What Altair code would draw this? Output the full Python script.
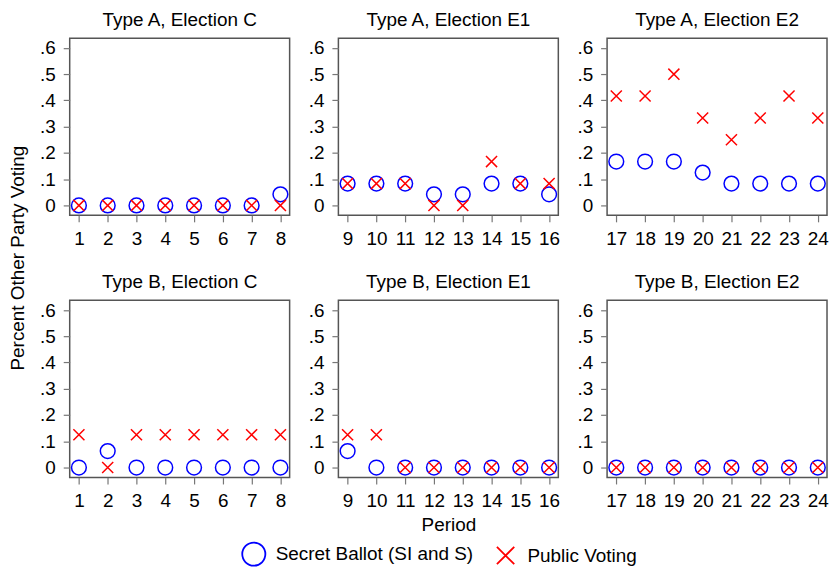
import altair as alt
import pandas as pd

# ---- data ----
series_names = ["Secret Ballot (SI and S)", "Public Voting"]

periods_c = [1, 2, 3, 4, 5, 6, 7, 8]
periods_e1 = [9, 10, 11, 12, 13, 14, 15, 16]
periods_e2 = [17, 18, 19, 20, 21, 22, 23, 24]

a_c_secret = [0, 0, 0, 0, 0, 0, 0, 0.042]
a_c_public = [0, 0, 0, 0, 0, 0, 0, 0]
a_e1_secret = [0.083, 0.083, 0.083, 0.042, 0.042, 0.083, 0.083, 0.042]
a_e1_public = [0.083, 0.083, 0.083, 0, 0, 0.167, 0.083, 0.083]
a_e2_secret = [0.167, 0.167, 0.167, 0.125, 0.083, 0.083, 0.083, 0.083]
a_e2_public = [0.417, 0.417, 0.5, 0.333, 0.25, 0.333, 0.417, 0.333]

b_c_secret = [0, 0.0625, 0, 0, 0, 0, 0, 0]
b_c_public = [0.125, 0, 0.125, 0.125, 0.125, 0.125, 0.125, 0.125]
b_e1_secret = [0.0625, 0, 0, 0, 0, 0, 0, 0]
b_e1_public = [0.125, 0.125, 0, 0, 0, 0, 0, 0]
b_e2_secret = [0, 0, 0, 0, 0, 0, 0, 0]
b_e2_public = [0, 0, 0, 0, 0, 0, 0, 0]

panel_titles = [
    "Type A, Election C", "Type A, Election E1", "Type A, Election E2",
    "Type B, Election C", "Type B, Election E1", "Type B, Election E2",
]
panel_periods = [periods_c, periods_e1, periods_e2, periods_c, periods_e1, periods_e2]
panel_secret = [a_c_secret, a_e1_secret, a_e2_secret, b_c_secret, b_e1_secret, b_e2_secret]
panel_public = [a_c_public, a_e1_public, a_e2_public, b_c_public, b_e1_public, b_e2_public]

y_ticks = [0, 0.1, 0.2, 0.3, 0.4, 0.5, 0.6]

X_PATH = "M-0.75,-0.75L0.75,0.75M-0.75,0.75L0.75,-0.75"
FS = 19

legend = alt.Legend(
    orient="none", legendX=172, legendY=505, direction="horizontal", padding=0,
    labelFontSize=FS, labelColor="#000000", labelLimit=400,
    symbolSize=540, symbolStrokeWidth=1.8,
    columnPadding=19, labelOffset=9,
)


def make_panel(i):
    periods = panel_periods[i]
    n = len(periods)
    df = pd.DataFrame({
        "period": periods + periods,
        "value": panel_secret[i] + panel_public[i],
        "series": [series_names[0]] * n + [series_names[1]] * n,
        "order": list(range(2 * n)),
    })
    y_axis = alt.Axis(
        values=y_ticks,
        labelExpr="datum.value == 0 ? '0' : replace(format(datum.value, '.1f'), '0.', '.')",
        title="Percent Other Party Voting" if i == 0 else None,
        titleX=-42, titleY=220.5, titleAngle=270,
    )
    x_axis = alt.Axis(values=periods, format="d",
                      title="Period" if i == 4 else None, titlePadding=5)
    return alt.Chart(df, title=panel_titles[i]).mark_point(
        filled=False, size=220, strokeWidth=1.5, opacity=1
    ).encode(
        x=alt.X("period:Q", axis=x_axis,
                scale=alt.Scale(domain=[periods[0] - 0.32, periods[-1] + 0.32], nice=False, zero=False)),
        y=alt.Y("value:Q", axis=y_axis,
                scale=alt.Scale(domain=[-0.038, 0.637], nice=False, zero=False)),
        color=alt.Color("series:N", title=None, legend=legend,
                        scale=alt.Scale(domain=series_names, range=["#0000ff", "#ff0000"])),
        shape=alt.Shape("series:N", title=None, legend=legend,
                        scale=alt.Scale(domain=series_names, range=["circle", X_PATH])),
        order=alt.Order("order:Q"),
    ).properties(width=221, height=178)


chart = alt.concat(
    *[make_panel(i) for i in range(6)],
    columns=3,
    spacing={"row": 85.4, "column": 49},
    bounds="flush",
).properties(
    padding=0, background="white"
).configure(
    font="Liberation Sans"
).configure_view(
    stroke="#555555", strokeWidth=1.5
).configure_axis(
    labelFontSize=FS, labelColor="#000000", labelFont="Liberation Sans",
    tickColor="#777777", tickSize=6.5, tickWidth=1.2, labelPadding=8,
    domain=False, grid=False,
    titleFontSize=FS, titleFontWeight="normal", titleColor="#000000", titleFont="Liberation Sans",
).configure_title(
    fontSize=FS, fontWeight="normal", baseline="alphabetic", offset=8.3,
    color="#000000", font="Liberation Sans", anchor="middle",
)

chart.save("out.html", embed_options={"renderer": "svg", "actions": False})
